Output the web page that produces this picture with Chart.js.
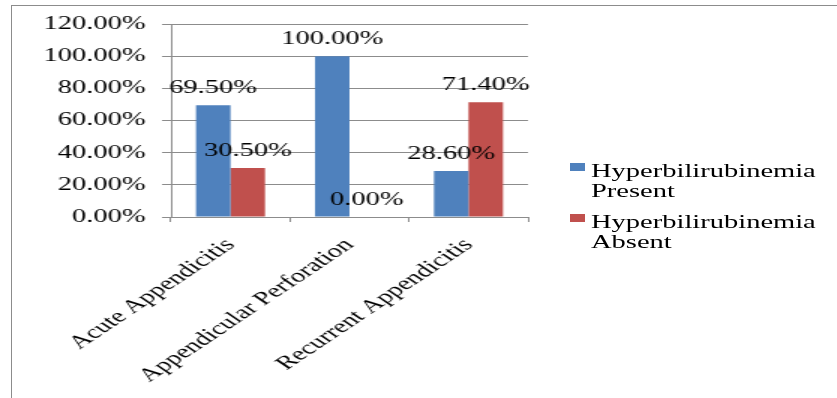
<!DOCTYPE html>
<html>
<head>
<meta charset="utf-8">
<script src="https://cdn.jsdelivr.net/npm/chart.js@4.4.0/dist/chart.umd.min.js"></script>
<style>
  body { margin: 0; background: #fff; width: 837px; height: 398px; overflow: hidden; position: relative; }
  #frame { position: absolute; left: 11px; top: 5px; width: 900px; height: 500px; border-left: 1px solid #8c8c8c; border-top: 1px solid #8c8c8c; }
  /* the original picture is stretched sideways, so the chart is drawn narrow and widened */
  #stretch { position: absolute; left: 0; top: 0; width: 558px; height: 398px; transform: scaleX(1.5); transform-origin: 0 0; }
  #legend { position: absolute; left: 380px; top: 161px; font: 19px "Liberation Serif"; line-height: 20px; color: #000; }
  .item { position: relative; padding-left: 14px; width: 150px; margin-bottom: 11px; }
  .box { position: absolute; left: 0; top: 2px; width: 10px; height: 8px; }
</style>
</head>
<body>
<div id="frame"></div>
<div id="stretch">
  <canvas id="barChart" width="558" height="398"></canvas>
  <div id="legend"></div>
</div>
<script>
var categories = ['Acute Appendicitis', 'Appendicular Perforation', 'Recurrent Appendicitis']
var seriesNames = ['Hyperbilirubinemia Present', 'Hyperbilirubinemia Absent']
var presentValues = [69.5, 100, 28.6]
var absentValues = [30.5, 0, 71.4]
var yTicks = [0, 20, 40, 60, 80, 100, 120]

var colors = ['#4f81bd', '#c0504d']
var font = { family: '"Liberation Serif", "Times New Roman", serif', size: 19 }

// value written above each bar
var valueLabels = {
    id: 'valueLabels',
    afterDatasetsDraw: function (chart) {
        var ctx = chart.ctx
        ctx.save()
        ctx.font = font.size + 'px ' + font.family
        ctx.fillStyle = '#000'
        ctx.textAlign = 'center'
        ctx.textBaseline = 'middle'
        chart.data.datasets.forEach(function (ds, i) {
            chart.getDatasetMeta(i).data.forEach(function (bar, j) {
                ctx.fillText(ds.data[j].toFixed(2) + '%', bar.x, bar.y - 17)
            })
        })
        ctx.restore()
    }
}

var barChartData = {
    labels: categories,
    datasets: [{
            label: seriesNames[0],
            backgroundColor: colors[0],
            data: presentValues
        },
        {
            label: seriesNames[1],
            backgroundColor: colors[1],
            data: absentValues
        }
    ]
}

var barChartOptions = {
    responsive: false,
    animation: false,
    devicePixelRatio: 1,
    layout: {
        padding: { top: 24, right: 206, left: 0, bottom: 0 }
    },
    plugins: {
        legend: { display: false },
        tooltip: { enabled: false }
    },
    datasets: {
        bar: { barPercentage: 1, categoryPercentage: 0.58 }
    },
    scales: {
        x: {
            grid: { drawOnChartArea: false, color: '#8c8c8c', tickLength: 5 },
            border: { color: '#8c8c8c' },
            ticks: { font: font, color: '#000', minRotation: 45, maxRotation: 45, padding: 12 },
            afterFit: function (scale) { scale.height = 181 }
        },
        y: {
            min: yTicks[0],
            max: yTicks[yTicks.length - 1],
            grid: { color: '#8c8c8c', tickLength: 6 },
            border: { color: '#8c8c8c' },
            afterBuildTicks: function (scale) {
                scale.ticks = yTicks.map(function (v) { return { value: v } })
            },
            ticks: {
                font: font,
                color: '#000',
                padding: 11,
                callback: function (v) { return v.toFixed(2) + '%' }
            },
            afterFit: function (scale) { scale.width = 114 }
        }
    }
}

var barChartCanvas = document.getElementById('barChart').getContext('2d')
var barChart = new Chart(barChartCanvas, {
    type: 'bar',
    data: barChartData,
    options: barChartOptions,
    plugins: [valueLabels]
})

var legend = document.getElementById('legend')
barChartData.datasets.forEach(function (ds) {
    var item = document.createElement('div')
    item.className = 'item'
    var box = document.createElement('span')
    box.className = 'box'
    box.style.background = ds.backgroundColor
    item.appendChild(box)
    item.appendChild(document.createTextNode(ds.label))
    legend.appendChild(item)
})
</script>
</body>
</html>
